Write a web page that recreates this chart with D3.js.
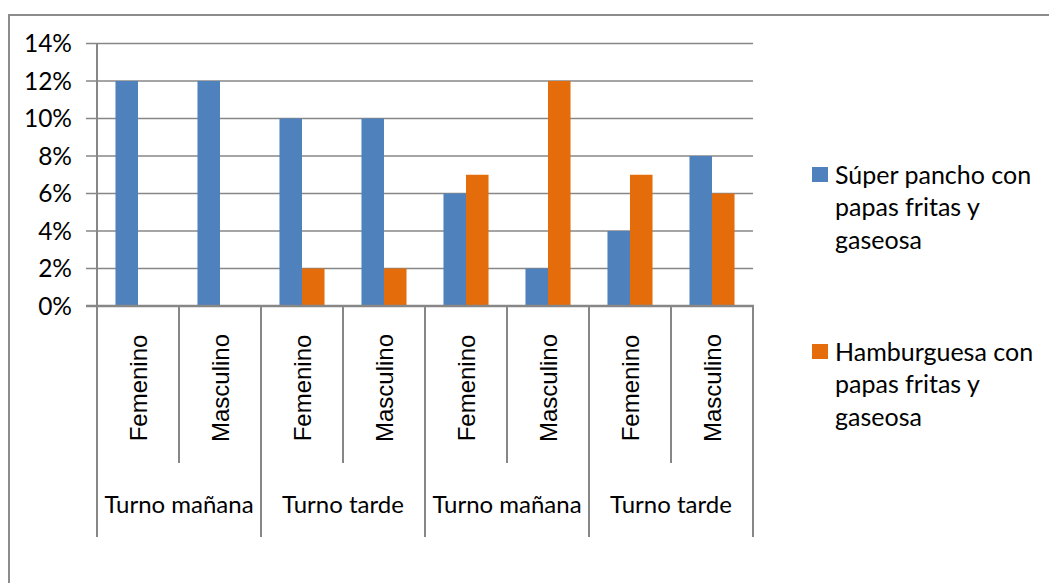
<!DOCTYPE html>
<html>
<head>
<meta charset="utf-8">
<script src="https://cdn.jsdelivr.net/npm/d3@7"></script>
<style>
  body { margin: 0; background: #fff; }
  svg { display: block; }
</style>
</head>
<body>
<div id="chart"></div>
<script>
// categories (two-level x axis)
const genders = ["Femenino", "Masculino", "Femenino", "Masculino", "Femenino", "Masculino", "Femenino", "Masculino"];
const shifts = ["Turno mañana", "Turno tarde", "Turno mañana", "Turno tarde"];
const seriesNames = ["Súper pancho con papas fritas y gaseosa", "Hamburguesa con papas fritas y gaseosa"];
const superPancho = [0.12, 0.12, 0.10, 0.10, 0.06, 0.02, 0.04, 0.08];
const hamburguesa = [0, 0, 0.02, 0.02, 0.07, 0.12, 0.07, 0.06];
const yTicks = [0, 0.02, 0.04, 0.06, 0.08, 0.10, 0.12, 0.14];

const colors = ["#4f81bd", "#e46c0a"];
const gridColor = "#878787";
const width = 1049, height = 583;
const plot = { left: 97, right: 753, top: 43.5, bottom: 306 };

const svg = d3.select("#chart").append("svg")
    .attr("width", width)
    .attr("height", height);

// outer chart border (runs past the right and bottom edge)
svg.append("rect")
    .attr("x", 9).attr("y", 15)
    .attr("width", 1200).attr("height", 800)
    .attr("fill", "none")
    .attr("stroke", "#8c8c8c")
    .attr("stroke-width", 2);

const idx = genders.map((d, i) => i);
const x = d3.scaleBand().domain(idx).range([plot.left, plot.right]);
const xs = d3.scaleBand().domain([0, 1]).range([0, x.bandwidth()]).paddingOuter(0.82);
const y = d3.scaleLinear().domain([0, 0.14]).range([plot.bottom, plot.top]);

// gridlines + tick marks
svg.append("g")
  .selectAll("line")
  .data(yTicks)
  .join("line")
    .attr("x1", plot.left - 11)
    .attr("x2", plot.right)
    .attr("y1", d => y(d))
    .attr("y2", d => y(d))
    .attr("stroke", gridColor)
    .attr("stroke-width", d => d === 0 ? 2 : 1.5);

svg.append("g")
  .selectAll("text")
  .data(yTicks)
  .join("text")
    .attr("x", 72)
    .attr("y", d => y(d))
    .attr("dy", "0.35em")
    .attr("text-anchor", "end")
    .attr("font-family", "Lato, 'Open Sans', sans-serif")
    .attr("font-size", 24.5)
    .attr("fill", "#000")
    .text(d => d3.format(".0%")(d));

// bars
const series = [superPancho, hamburguesa];
series.forEach((vals, s) => {
  svg.append("g")
    .selectAll("rect")
    .data(vals)
    .join("rect")
      .attr("x", (d, i) => x(i) + xs(s))
      .attr("y", d => y(d))
      .attr("width", xs.bandwidth())
      .attr("height", d => y(0) - y(d))
      .attr("fill", colors[s]);
});

// y axis line
svg.append("line")
    .attr("x1", plot.left).attr("x2", plot.left)
    .attr("y1", plot.top).attr("y2", plot.bottom)
    .attr("stroke", gridColor).attr("stroke-width", 2);

// x axis baseline on top of bars
svg.append("line")
    .attr("x1", plot.left - 11).attr("x2", plot.right + 1)
    .attr("y1", y(0)).attr("y2", y(0))
    .attr("stroke", gridColor).attr("stroke-width", 2.5);

// category separators
const edges = d3.range(genders.length + 1);
svg.append("g")
  .selectAll("line")
  .data(edges)
  .join("line")
    .attr("x1", i => i < genders.length ? x(i) : plot.right)
    .attr("x2", i => i < genders.length ? x(i) : plot.right)
    .attr("y1", y(0))
    .attr("y2", i => i % 2 === 0 ? 537 : 463)
    .attr("stroke", gridColor)
    .attr("stroke-width", 2);

// inner labels, rotated
svg.append("g")
  .selectAll("text")
  .data(genders)
  .join("text")
    .attr("transform", (d, i) => `translate(${x(i) + x.bandwidth() / 2 + 1},388) rotate(-90)`)
    .attr("dy", "0.35em")
    .attr("text-anchor", "middle")
    .attr("font-family", "'Liberation Sans', Arial, sans-serif")
    .attr("font-size", 24)
    .attr("fill", "#000")
    .text(d => d);

// outer labels
svg.append("g")
  .selectAll("text")
  .data(shifts)
  .join("text")
    .attr("x", (d, i) => x(i * 2) + x.bandwidth())
    .attr("y", 505)
    .attr("dy", "0.35em")
    .attr("text-anchor", "middle")
    .attr("font-family", "Lato, 'Open Sans', sans-serif")
    .attr("font-size", 24)
    .attr("fill", "#000")
    .text(d => d);

// legend
const legendLines = [
  ["Súper pancho con", "papas fritas y", "gaseosa"],
  ["Hamburguesa con", "papas fritas y", "gaseosa"]
];
const legendTop = [175, 352];
legendLines.forEach((lines, s) => {
  const g = svg.append("g").attr("transform", `translate(812,${legendTop[s]})`);
  g.append("rect")
      .attr("x", 0).attr("y", -8)
      .attr("width", 16).attr("height", 15)
      .attr("fill", colors[s]);
  g.append("text")
      .attr("font-family", "Lato, 'Open Sans', sans-serif")
      .attr("font-size", 25)
      .attr("fill", "#000")
    .selectAll("tspan")
    .data(lines)
    .join("tspan")
      .attr("x", 23)
      .attr("y", (d, i) => i * 32.5)
      .attr("dy", "0.35em")
      .text(d => d);
});
</script>
</body>
</html>
